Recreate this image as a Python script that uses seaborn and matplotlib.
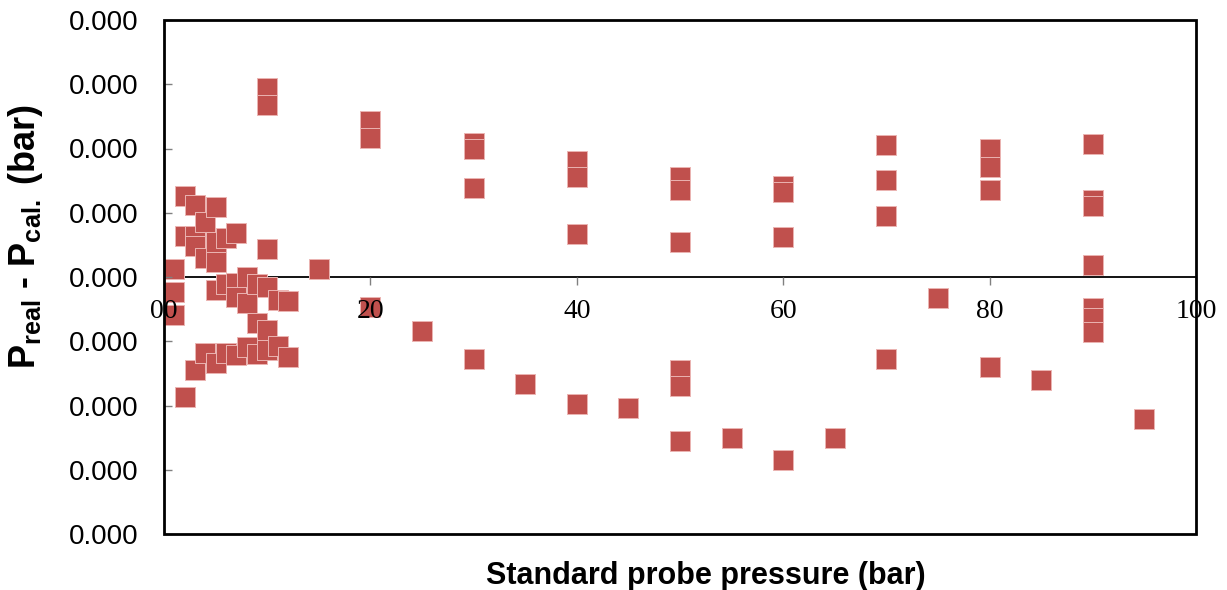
import matplotlib
matplotlib.use("Agg")
import matplotlib.pyplot as plt
import pandas as pd
import seaborn as sns
from matplotlib.patches import Rectangle
from matplotlib.ticker import FuncFormatter

# Standard probe pressure (bar) for every calibration reading
pressure = [1, 1, 1,
            2, 2, 2,
            3, 3, 3, 3,
            4, 4, 4,
            5, 5, 5, 5, 5,
            6, 6, 6,
            7, 7, 7, 7,
            8, 8, 8,
            9, 9, 9,
            10, 10, 10, 10, 10, 10,
            11, 11,
            12, 12,
            15,
            20, 20, 20,
            25,
            30, 30, 30, 30,
            35,
            40, 40, 40, 40,
            45,
            50, 50, 50, 50, 50, 50,
            55,
            60, 60, 60, 60,
            65,
            70, 70, 70, 70,
            75,
            80, 80, 80, 80,
            85,
            90, 90, 90, 90, 90, 90, 90,
            95]

# P_real - P_cal. (bar) for the same readings
deviation = [1.29e-5, -2.32e-5, -5.94e-5,
             1.257e-4, 6.42e-5, -1.869e-4,
             1.117e-4, 6.39e-5, 4.79e-5, -1.449e-4,
             8.52e-5, 2.92e-5, -1.185e-4,
             1.086e-4, 5.46e-5, 2.30e-5, -2.05e-5, -1.341e-4,
             6.03e-5, -1.12e-5, -1.185e-4,
             6.81e-5, -1.01e-5, -3.09e-5, -1.216e-4,
             2.0e-7, -4.12e-5, -1.092e-4,
             -1.07e-5, -7.23e-5, -1.201e-4,
             2.936e-4, 2.672e-4, 4.32e-5, -1.48e-5, -8.23e-5, -1.138e-4,
             -3.61e-5, -1.076e-4,
             -3.72e-5, -1.247e-4,
             1.29e-5,
             2.423e-4, 2.159e-4, -4.70e-5,
             -8.43e-5,
             2.081e-4, 1.988e-4, 1.386e-4, -1.274e-4,
             -1.667e-4,
             1.801e-4, 1.552e-4, 6.70e-5, -1.983e-4,
             -2.036e-4,
             1.557e-4, 1.350e-4, 5.49e-5, -1.449e-4, -1.698e-4, -2.546e-4,
             -2.512e-4,
             1.417e-4, 1.323e-4, 6.30e-5, -2.849e-4,
             -2.512e-4,
             2.050e-4, 1.505e-4, 9.53e-5, -1.283e-4,
             -3.34e-5,
             1.988e-4, 1.708e-4, 1.350e-4, -1.403e-4,
             -1.600e-4,
             2.070e-4, 1.202e-4, 1.109e-4, 1.88e-5, -4.77e-5, -6.41e-5, -8.58e-5,
             -2.211e-4]

x_ticks = [0, 20, 40, 60, 80, 100]
x_tick_labels = ["00", "20", "40", "60", "80", "100"]
y_ticks = [-0.0004, -0.0003, -0.0002, -0.0001, 0.0, 0.0001, 0.0002, 0.0003, 0.0004]

sns.set_style("white")
plt.rcParams["font.family"] = ["Liberation Sans", "DejaVu Sans"]
plt.rcParams["text.color"] = "black"
plt.rcParams["xtick.labelcolor"] = "black"
plt.rcParams["ytick.labelcolor"] = "black"
plt.rcParams["mathtext.fontset"] = "custom"
plt.rcParams["mathtext.rm"] = "Liberation Sans:bold"
plt.rcParams["mathtext.it"] = "Liberation Sans:bold"
plt.rcParams["mathtext.bf"] = "Liberation Sans:bold"

W, H = 1227, 590
fig = plt.figure(figsize=(W / 100, H / 100), dpi=100, facecolor="white")
ax = fig.add_axes([164 / W, 56 / H, 1032 / W, 514 / H])
ax.set_facecolor("white")

df = pd.DataFrame({"pressure": pressure, "deviation": deviation})
sns.scatterplot(data=df, x="pressure", y="deviation", marker="s", s=205,
                color="#C0504D", edgecolor="#EBB4B2", linewidth=0.7,
                alpha=1.0, legend=False, ax=ax, zorder=2)

ax.set_xlim(0, 100)
ax.set_ylim(-0.0004, 0.0004)
ax.set_xlabel("")
ax.set_ylabel("")

# zero line sits beneath the markers
ax.axhline(0, color="black", lw=1.3, zorder=1.5)

# x axis ticks ride on the zero line; tick labels stay above the markers
for side in ["top", "right", "left", "bottom"]:
    ax.spines[side].set_visible(False)
ax.spines["bottom"].set_position(("data", 0))
ax.set_axisbelow(False)
ax.xaxis.set_zorder(2.5)
ax.yaxis.set_zorder(2.5)

ax.set_xticks(x_ticks, labels=x_tick_labels)
ax.set_yticks(y_ticks)
ax.yaxis.set_major_formatter(FuncFormatter(lambda v, _: f"{abs(v):.3f}"))

ax.tick_params(axis="x", bottom=True, direction="out", length=6, width=1,
               color="#808080", labelsize=20, pad=10, labelcolor="black")
ax.tick_params(axis="y", left=True, direction="in", length=6, width=1,
               color="#808080", labelsize=20, pad=18, labelcolor="black")
for lab in ax.get_xticklabels():
    lab.set_fontfamily("Liberation Serif")

# plot frame drawn over everything else
ax.add_patch(Rectangle((0, 0), 1, 1, transform=ax.transAxes, fill=False,
                       edgecolor="black", lw=2, zorder=3, clip_on=False))

fig.text(706 / W, 1 - 584 / H, "Standard probe pressure (bar)",
         ha="center", va="baseline", fontsize=22, fontweight="bold",
         family="Liberation Sans", color="black")
fig.text(26 / W, 1 - 236 / H, r"P$_{\rm real}$ - P$_{\rm cal.}$ (bar)",
         ha="center", va="center", rotation=90, fontsize=26,
         fontweight="bold", family="Liberation Sans", color="black")

fig.savefig("out.png", dpi=100, facecolor="white")
